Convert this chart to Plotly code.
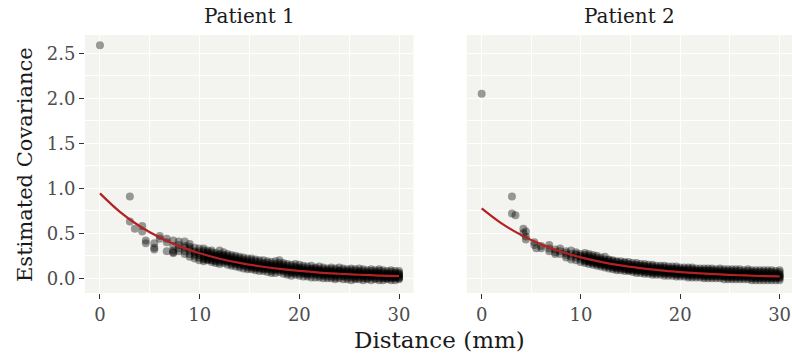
import plotly.graph_objects as go

# ---------------- data ----------------
panel_titles = ["Patient 1", "Patient 2"]
x_ticks = [0, 10, 20, 30]
y_ticks = [0.0, 0.5, 1.0, 1.5, 2.0, 2.5]
y_tick_labels = ["0.0", "0.5", "1.0", "1.5", "2.0", "2.5"]

p1_dist = [0.0, 3.0, 3.5, 4.24, 4.6, 5.45, 6.0, 6.7, 7.35, 7.9, 8.5, 9.0, 9.5, 9.95,
           10.4, 10.8, 11.2, 11.6, 12.0, 12.4, 12.8, 13.2, 13.6, 14.0, 14.4, 14.8,
           15.2, 15.6, 16.0, 16.4, 16.8, 17.2, 17.6, 18.0, 18.4, 18.8, 19.2, 19.6,
           20.0, 20.4, 20.8, 21.2, 21.6, 22.0, 22.4, 22.8, 23.2, 23.6, 24.0, 24.4,
           24.8, 25.2, 25.6, 26.0, 26.4, 26.8, 27.2, 27.6, 28.0, 28.4, 28.8, 29.2,
           29.6, 30.0]
p1_cov = [
    [2.59], [0.91, 0.63], [0.55], [0.58, 0.52], [0.42, 0.39], [0.39, 0.34, 0.32],
    [0.47, 0.44], [0.44, 0.40, 0.30], [0.29, 0.31, 0.28, 0.42, 0.36],
    [0.37, 0.41, 0.33, 0.30], [0.41, 0.36, 0.30, 0.34, 0.27],
    [0.38, 0.33, 0.27, 0.24, 0.31, 0.35], [0.34, 0.29, 0.25, 0.22, 0.30, 0.27],
    [0.30, 0.26, 0.23, 0.20, 0.33, 0.28],
    [0.31, 0.27, 0.24, 0.21, 0.19, 0.29, 0.25, 0.22, 0.33],
    [0.31, 0.26, 0.22, 0.20, 0.28, 0.24, 0.25, 0.21, 0.29],
    [0.29, 0.25, 0.21, 0.18, 0.27, 0.23, 0.24, 0.20, 0.31],
    [0.28, 0.24, 0.20, 0.17, 0.26, 0.22, 0.23, 0.19, 0.25],
    [0.31, 0.26, 0.22, 0.18, 0.16, 0.24, 0.20, 0.23, 0.27],
    [0.29, 0.25, 0.21, 0.17, 0.23, 0.19, 0.20, 0.22, 0.26],
    [0.27, 0.23, 0.19, 0.15, 0.21, 0.25, 0.18, 0.22, 0.20],
    [0.26, 0.22, 0.18, 0.14, 0.20, 0.16, 0.19, 0.21, 0.24],
    [0.25, 0.21, 0.17, 0.13, 0.19, 0.23, 0.16, 0.18, 0.20],
    [0.24, 0.20, 0.16, 0.12, 0.18, 0.14, 0.17, 0.19, 0.22],
    [0.23, 0.19, 0.15, 0.11, 0.17, 0.21, 0.14, 0.16, 0.18],
    [0.22, 0.18, 0.14, 0.10, 0.16, 0.12, 0.15, 0.17, 0.20],
    [0.22, 0.18, 0.14, 0.10, 0.16, 0.12, 0.20, 0.15, 0.13],
    [0.21, 0.17, 0.13, 0.09, 0.15, 0.11, 0.14, 0.12, 0.19],
    [0.20, 0.16, 0.12, 0.08, 0.14, 0.18, 0.11, 0.13, 0.15],
    [0.20, 0.16, 0.12, 0.08, 0.14, 0.10, 0.13, 0.11, 0.17],
    [0.19, 0.15, 0.11, 0.07, 0.13, 0.17, 0.10, 0.12, 0.14],
    [0.18, 0.14, 0.10, 0.06, 0.12, 0.08, 0.11, 0.13, 0.16],
    [0.19, 0.14, 0.10, 0.06, 0.12, 0.16, 0.09, 0.11, 0.13],
    [0.20, 0.15, 0.11, 0.07, 0.13, 0.09, 0.10, 0.12, 0.17],
    [0.17, 0.13, 0.09, 0.05, 0.11, 0.15, 0.08, 0.10, 0.12],
    [0.16, 0.12, 0.08, 0.04, 0.10, 0.06, 0.09, 0.11, 0.14],
    [0.15, 0.11, 0.07, 0.03, 0.09, 0.13, 0.08, 0.10, 0.06],
    [0.16, 0.12, 0.08, 0.04, 0.10, 0.06, 0.07, 0.09, 0.13],
    [0.15, 0.11, 0.07, 0.03, 0.09, 0.05, 0.08, 0.10, 0.12],
    [0.14, 0.10, 0.06, 0.02, 0.08, 0.12, 0.05, 0.07, 0.09],
    [0.13, 0.09, 0.05, 0.02, 0.07, 0.11, 0.06, 0.08, 0.04],
    [0.14, 0.10, 0.06, 0.01, 0.08, 0.04, 0.07, 0.09, 0.11],
    [0.12, 0.09, 0.05, 0.01, 0.07, 0.11, 0.04, 0.06, 0.08],
    [0.13, 0.09, 0.05, 0.01, 0.07, 0.03, 0.06, 0.08, 0.10],
    [0.12, 0.08, 0.04, 0.00, 0.06, 0.10, 0.03, 0.05, 0.07],
    [0.11, 0.08, 0.04, 0.00, 0.06, 0.02, 0.05, 0.07, 0.09],
    [0.12, 0.08, 0.04, 0.00, 0.06, 0.10, 0.02, 0.05, 0.07],
    [0.11, 0.07, 0.03, -0.01, 0.05, 0.09, 0.04, 0.06, 0.01],
    [0.12, 0.08, 0.04, 0.00, 0.06, 0.02, 0.05, 0.07, 0.09],
    [0.11, 0.07, 0.03, -0.01, 0.05, 0.09, 0.02, 0.04, 0.06],
    [0.10, 0.07, 0.03, -0.01, 0.05, 0.01, 0.04, 0.06, 0.08],
    [0.11, 0.07, 0.03, -0.02, 0.05, 0.09, 0.01, 0.04, 0.06],
    [0.10, 0.06, 0.02, -0.01, 0.04, 0.08, 0.03, 0.05, 0.00],
    [0.11, 0.07, 0.03, -0.01, 0.05, 0.01, 0.04, 0.06, 0.08],
    [0.10, 0.06, 0.02, -0.02, 0.04, 0.08, 0.00, 0.03, 0.05],
    [0.09, 0.06, 0.02, -0.01, 0.04, 0.00, 0.03, 0.05, 0.07],
    [0.10, 0.06, 0.02, -0.02, 0.04, 0.08, 0.01, 0.03, 0.05],
    [0.09, 0.05, 0.02, -0.01, 0.03, 0.07, 0.00, 0.04, 0.06],
    [0.10, 0.06, 0.02, -0.02, 0.04, 0.00, 0.03, 0.05, 0.08],
    [0.09, 0.05, 0.01, -0.02, 0.03, 0.07, 0.00, 0.02, 0.04],
    [0.08, 0.05, 0.01, -0.01, 0.03, 0.06, 0.02, 0.04, 0.00],
    [0.09, 0.05, 0.01, -0.02, 0.03, 0.07, 0.00, 0.02, 0.04],
    [0.08, 0.04, 0.01, -0.02, 0.03, 0.06, 0.00, 0.02, 0.05],
    [0.08, 0.05, 0.02, -0.01, 0.03, 0.00, 0.01, 0.04, 0.06],
]

p2_dist = [0.0, 3.05, 3.4, 4.2, 4.45, 5.3, 5.5, 6.0, 6.8, 7.4, 7.9, 8.5, 9.0, 9.5, 9.95,
           10.4, 10.8, 11.2, 11.6, 12.0, 12.4, 12.8, 13.2, 13.6, 14.0, 14.4, 14.8,
           15.2, 15.6, 16.0, 16.4, 16.8, 17.2, 17.6, 18.0, 18.4, 18.8, 19.2, 19.6,
           20.0, 20.4, 20.8, 21.2, 21.6, 22.0, 22.4, 22.8, 23.2, 23.6, 24.0, 24.4,
           24.8, 25.2, 25.6, 26.0, 26.4, 26.8, 27.2, 27.6, 28.0, 28.4, 28.8, 29.2,
           29.6, 30.0]
p2_cov = [
    [2.05], [0.91, 0.72], [0.70], [0.55, 0.50], [0.52, 0.465, 0.43], [0.37, 0.40],
    [0.335], [0.335, 0.36], [0.37, 0.30, 0.33], [0.27, 0.32, 0.29], [0.30, 0.27, 0.33],
    [0.30, 0.26, 0.28, 0.23], [0.31, 0.27, 0.24, 0.21], [0.29, 0.26, 0.23, 0.20, 0.27],
    [0.27, 0.24, 0.21, 0.18, 0.25],
    [0.26, 0.23, 0.20, 0.17, 0.24, 0.21, 0.19, 0.22, 0.28],
    [0.25, 0.22, 0.19, 0.16, 0.23, 0.20, 0.18, 0.21, 0.27],
    [0.24, 0.21, 0.18, 0.15, 0.22, 0.19, 0.17, 0.20, 0.26],
    [0.25, 0.21, 0.17, 0.14, 0.20, 0.18, 0.16, 0.19, 0.23],
    [0.23, 0.20, 0.17, 0.13, 0.19, 0.15, 0.16, 0.18, 0.21],
    [0.24, 0.19, 0.16, 0.12, 0.18, 0.14, 0.15, 0.17, 0.21],
    [0.21, 0.18, 0.15, 0.11, 0.17, 0.13, 0.14, 0.16, 0.20],
    [0.20, 0.17, 0.14, 0.10, 0.16, 0.12, 0.13, 0.15, 0.19],
    [0.19, 0.16, 0.13, 0.09, 0.15, 0.11, 0.12, 0.14, 0.18],
    [0.19, 0.16, 0.13, 0.09, 0.15, 0.11, 0.12, 0.14, 0.17],
    [0.18, 0.15, 0.12, 0.08, 0.14, 0.10, 0.11, 0.13, 0.17],
    [0.18, 0.15, 0.11, 0.08, 0.13, 0.09, 0.10, 0.12, 0.16],
    [0.17, 0.14, 0.11, 0.07, 0.13, 0.09, 0.10, 0.12, 0.15],
    [0.17, 0.14, 0.10, 0.06, 0.12, 0.08, 0.09, 0.11, 0.15],
    [0.16, 0.13, 0.10, 0.06, 0.12, 0.08, 0.09, 0.11, 0.14],
    [0.16, 0.13, 0.09, 0.05, 0.11, 0.07, 0.08, 0.10, 0.14],
    [0.15, 0.12, 0.09, 0.05, 0.11, 0.07, 0.08, 0.10, 0.13],
    [0.15, 0.12, 0.08, 0.04, 0.10, 0.06, 0.07, 0.09, 0.13],
    [0.14, 0.11, 0.08, 0.04, 0.10, 0.06, 0.07, 0.09, 0.12],
    [0.14, 0.11, 0.08, 0.04, 0.09, 0.06, 0.07, 0.10, 0.12],
    [0.14, 0.11, 0.07, 0.03, 0.09, 0.05, 0.06, 0.08, 0.12],
    [0.13, 0.10, 0.07, 0.03, 0.09, 0.05, 0.06, 0.08, 0.11],
    [0.13, 0.10, 0.07, 0.03, 0.08, 0.05, 0.06, 0.09, 0.11],
    [0.13, 0.10, 0.06, 0.02, 0.08, 0.04, 0.05, 0.07, 0.11],
    [0.12, 0.09, 0.06, 0.02, 0.08, 0.04, 0.05, 0.07, 0.10],
    [0.12, 0.09, 0.06, 0.02, 0.07, 0.04, 0.05, 0.08, 0.10],
    [0.12, 0.09, 0.05, 0.01, 0.07, 0.03, 0.04, 0.06, 0.10],
    [0.12, 0.09, 0.05, 0.01, 0.07, 0.03, 0.04, 0.06, 0.10],
    [0.11, 0.08, 0.05, 0.01, 0.07, 0.03, 0.04, 0.06, 0.09],
    [0.11, 0.08, 0.05, 0.01, 0.06, 0.03, 0.04, 0.07, 0.09],
    [0.11, 0.08, 0.04, 0.00, 0.06, 0.02, 0.03, 0.05, 0.09],
    [0.11, 0.08, 0.04, 0.00, 0.06, 0.02, 0.03, 0.05, 0.09],
    [0.11, 0.08, 0.04, 0.00, 0.06, 0.02, 0.03, 0.05, 0.09],
    [0.10, 0.07, 0.04, 0.00, 0.06, 0.02, 0.03, 0.05, 0.08],
    [0.11, 0.07, 0.04, 0.00, 0.05, 0.02, 0.03, 0.06, 0.09],
    [0.10, 0.07, 0.03, -0.01, 0.05, 0.02, 0.02, 0.04, 0.08],
    [0.10, 0.07, 0.03, -0.01, 0.05, 0.01, 0.02, 0.04, 0.08],
    [0.10, 0.07, 0.03, -0.01, 0.05, 0.01, 0.02, 0.04, 0.08],
    [0.10, 0.07, 0.03, -0.01, 0.05, 0.01, 0.02, 0.04, 0.08],
    [0.10, 0.06, 0.03, -0.01, 0.05, 0.01, 0.02, 0.04, 0.08],
    [0.09, 0.06, 0.03, -0.01, 0.04, 0.01, 0.02, 0.05, 0.07],
    [0.10, 0.06, 0.03, -0.01, 0.04, 0.01, 0.02, 0.05, 0.08],
    [0.09, 0.06, 0.03, -0.02, 0.04, 0.00, 0.01, 0.05, 0.07],
    [0.09, 0.06, 0.02, -0.02, 0.04, 0.00, 0.01, 0.03, 0.07],
    [0.09, 0.06, 0.02, -0.02, 0.04, 0.00, 0.01, 0.03, 0.07],
    [0.09, 0.06, 0.02, -0.02, 0.04, 0.00, 0.01, 0.03, 0.07],
    [0.09, 0.06, 0.02, -0.02, 0.04, 0.00, 0.01, 0.03, 0.07],
    [0.09, 0.06, 0.02, -0.02, 0.04, 0.00, 0.01, 0.03, 0.07],
    [0.08, 0.05, 0.02, -0.02, 0.04, 0.00, 0.01, 0.03, 0.06],
    [0.09, 0.05, 0.02, -0.02, 0.04, 0.00, 0.01, 0.03, 0.07],
]

# fitted exponential curves
fit_dist = [0, 2, 4, 6, 8, 10, 12, 14, 16, 18, 20, 22, 24, 26, 28, 30]
p1_fit = [0.944, 0.739, 0.578, 0.453, 0.355, 0.278, 0.218, 0.171, 0.134, 0.105,
          0.082, 0.064, 0.051, 0.040, 0.031, 0.024]
p2_fit = [0.778, 0.611, 0.480, 0.377, 0.296, 0.233, 0.183, 0.143, 0.113, 0.088,
          0.070, 0.055, 0.043, 0.034, 0.026, 0.021]

# ---------------- figure ----------------
FONT = "DejaVu Serif"
BG = "#f3f3ef"


def flatten(dists, covs):
    xs, ys = [], []
    for d, vals in zip(dists, covs):
        for v in vals:
            xs.append(d)
            ys.append(v)
    return xs, ys


fig = go.Figure()
for i, (dists, covs, fit) in enumerate([(p1_dist, p1_cov, p1_fit), (p2_dist, p2_cov, p2_fit)]):
    xs, ys = flatten(dists, covs)
    xa = "x" if i == 0 else "x2"
    ya = "y" if i == 0 else "y2"
    fig.add_trace(go.Scatter(
        x=xs, y=ys, mode="markers", xaxis=xa, yaxis=ya,
        marker=dict(color="rgba(0,0,0,0.38)", size=8, line=dict(width=0)),
        showlegend=False, hoverinfo="skip"))
    fig.add_trace(go.Scatter(
        x=fit_dist, y=fit, mode="lines", xaxis=xa, yaxis=ya,
        line=dict(color="#b22222", width=2.2, shape="spline"),
        showlegend=False, hoverinfo="skip"))

grid = dict(showgrid=True, gridcolor="white", gridwidth=1.3, zeroline=False, showline=False)
tickstyle = dict(ticks="outside", ticklen=5, tickwidth=1, tickcolor="#333333",
                 tickfont=dict(family=FONT, size=18, color="#4d4d4d"))

yr = [-0.163, 2.703]
fig.update_layout(
    width=792, height=357,
    margin=dict(l=85, r=0, t=35, b=64, autoexpand=False),
    paper_bgcolor="white", plot_bgcolor=BG,
    font=dict(family=FONT),
    xaxis=dict(domain=[0, 0.4646], range=[-1.5, 31.45], tickvals=x_ticks, anchor="y",
               minor=dict(showgrid=True, gridcolor="white", gridwidth=0.6, dtick=5, tick0=0),
               **grid, **tickstyle),
    xaxis2=dict(domain=[0.540, 1.0], range=[-1.5, 31.25], tickvals=x_ticks, anchor="y2",
                minor=dict(showgrid=True, gridcolor="white", gridwidth=0.6, dtick=5, tick0=0),
                **grid, **tickstyle),
    yaxis=dict(range=yr, tickvals=y_ticks, ticktext=y_tick_labels, anchor="x",
               minor=dict(showgrid=True, gridcolor="white", gridwidth=0.6, dtick=0.25, tick0=0),
               **grid, **tickstyle),
    yaxis2=dict(range=yr, tickvals=y_ticks, showticklabels=False, ticks="", anchor="x2",
                minor=dict(showgrid=True, gridcolor="white", gridwidth=0.6, dtick=0.25, tick0=0),
                **grid),
)

# strip titles
for name, xc in zip(panel_titles, [0.2323, 0.77]):
    fig.add_annotation(x=xc, y=1.0736, xref="paper", yref="paper", text=name,
                       showarrow=False, xanchor="center", yanchor="middle",
                       font=dict(family=FONT, size=20, color="#1a1a1a"))

# axis titles
fig.add_annotation(x=0.502, y=-0.182, xref="paper", yref="paper", text="Distance (mm)",
                   showarrow=False, xanchor="center", yanchor="middle",
                   font=dict(family=FONT, size=23, color="#1a1a1a"))
fig.add_annotation(x=-0.0849, y=0.5, xref="paper", yref="paper", text="Estimated Covariance",
                   showarrow=False, xanchor="center", yanchor="middle", textangle=-90,
                   font=dict(family=FONT, size=21, color="#1a1a1a"))

fig.write_html("out.html", config={"displayModeBar": False},
               post_script="document.body.style.margin='0';")
